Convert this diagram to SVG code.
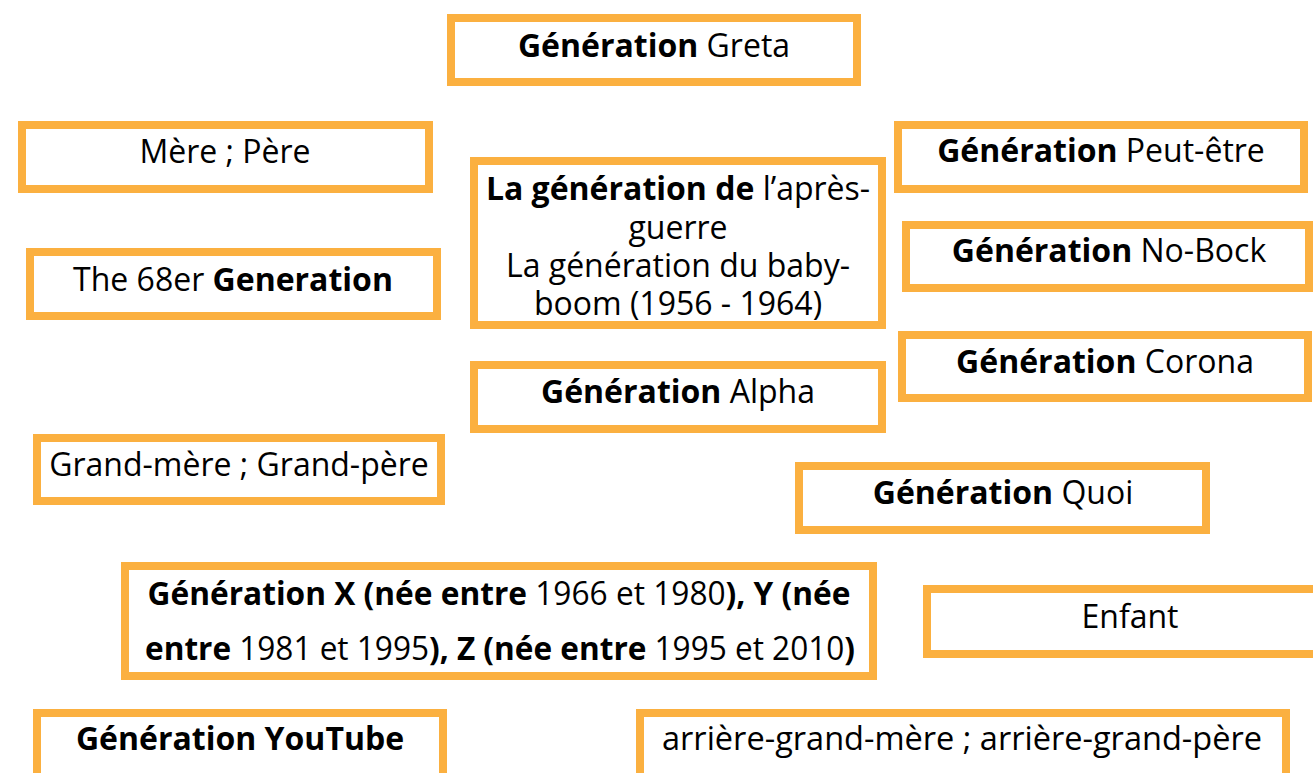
<svg xmlns="http://www.w3.org/2000/svg" width="1313" height="773" viewBox="0 0 1313 773">
<style>
.box{fill:#ffffff;stroke:#fbb040;stroke-width:8}
text{font-family:"Open Sans","Noto Sans","DejaVu Sans",sans-serif;font-size:32px;fill:#000;text-anchor:middle}
.b{font-weight:bold}
</style>
<rect width="1313" height="773" fill="#ffffff"/>
<g id="connectors"></g>
<g id="greta"><rect class="box" x="451" y="18" width="406" height="64"/><text x="654" y="57"><tspan class="b">Génération</tspan> Greta</text></g>
<g id="mere-pere"><rect class="box" x="22" y="125" width="407" height="64"/><text x="225" y="163">Mère ; Père</text></g>
<g id="the68er"><rect class="box" x="30" y="252" width="407" height="64"/><text x="233" y="291">The 68er <tspan class="b">Generation</tspan></text></g>
<g id="apres-guerre"><rect class="box" x="474" y="161" width="408" height="164"/>
<text x="678" y="200"><tspan class="b">La génération de</tspan> l’après-</text>
<text x="678" y="238.5">guerre</text>
<text x="678" y="277">La génération du baby-</text>
<text x="678" y="315">boom (1956 - 1964)</text></g>
<g id="alpha"><rect class="box" x="474" y="365" width="408" height="64"/><text x="678" y="403"><tspan class="b">Génération</tspan> Alpha</text></g>
<g id="peut-etre"><rect class="box" x="898" y="125" width="406" height="64"/><text x="1101" y="162"><tspan class="b">Génération</tspan> Peut-être</text></g>
<g id="no-bock"><rect class="box" x="906" y="225" width="403" height="63"/><text x="1109" y="262"><tspan class="b">Génération</tspan> No-Bock</text></g>
<g id="corona"><rect class="box" x="902" y="335" width="406" height="63"/><text x="1105" y="373"><tspan class="b">Génération</tspan> Corona</text></g>
<g id="grand-mere"><rect class="box" x="37" y="438" width="404" height="63"/><text x="239" y="476">Grand-mère ; Grand-père</text></g>
<g id="quoi"><rect class="box" x="799" y="466" width="407" height="64"/><text x="1003" y="504"><tspan class="b">Génération</tspan> Quoi</text></g>
<g id="enfant"><rect class="box" x="927" y="589" width="410" height="65"/><text x="1130" y="628">Enfant</text></g>
<g id="gen-xyz"><rect class="box" x="125" y="566" width="748" height="110"/>
<text x="499" y="605" textLength="703" lengthAdjust="spacingAndGlyphs"><tspan class="b">Génération X (née entre</tspan> 1966 et 1980<tspan class="b">), Y (née</tspan></text>
<text x="500" y="660" textLength="710" lengthAdjust="spacingAndGlyphs"><tspan class="b">entre</tspan> 1981 et 1995<tspan class="b">), Z (née entre</tspan> 1995 et 2010<tspan class="b">)</tspan></text></g>
<g id="youtube"><rect class="box" x="37" y="713" width="406" height="70"/><text x="240" y="750" class="b">Génération YouTube</text></g>
<g id="arriere"><rect class="box" x="640" y="713" width="646" height="70"/><text x="962" y="750" textLength="600" lengthAdjust="spacingAndGlyphs">arrière-grand-mère ; arrière-grand-père</text></g>
</svg>
